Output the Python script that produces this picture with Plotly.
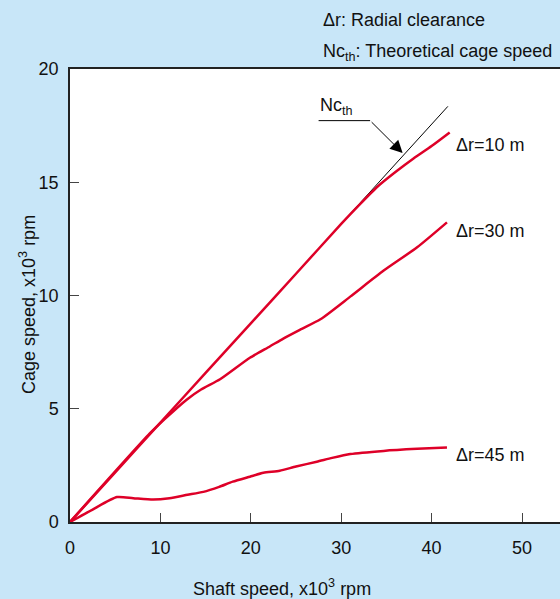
import plotly.graph_objects as go

# ---- data ----
theory_x = [0, 41.8]
theory_y = [0, 18.35]

r10_x = [0, 5, 10, 15, 20, 25, 30, 32, 34, 36, 38, 40, 42]
r10_y = [0, 2.19, 4.39, 6.58, 8.77, 10.96, 13.16, 14.0, 14.8, 15.45, 16.05, 16.6, 17.2]

r30_x = [0, 8.8, 10.5, 12.9, 14.5, 16.6, 19.9, 22.1, 23.6, 25.5, 27.7, 31.0, 34.7, 38.4, 41.7]
r30_y = [0, 3.9, 4.55, 5.4, 5.85, 6.3, 7.25, 7.75, 8.1, 8.5, 8.95, 9.95, 11.1, 12.13, 13.23]

r45_x = [0, 2.5, 5.2, 7, 9.2, 11, 13, 14.75, 16.5, 18, 19.9, 21.4, 23.2, 25, 27.3, 29, 31, 34.7, 38.4, 41.7]
r45_y = [0, 0.55, 1.1, 1.05, 0.99, 1.05, 1.2, 1.33, 1.55, 1.78, 2.0, 2.17, 2.26, 2.45, 2.66, 2.83, 3.0, 3.14, 3.23, 3.29]

x_ticks = [0, 10, 20, 30, 40, 50]
y_ticks = [0, 5, 10, 15, 20]

series_labels = ["Δr=10 m", "Δr=30 m", "Δr=45 m"]
label_y = [16.64, 12.85, 2.96]

RED = "rgb(222,0,40)"
BG = "rgb(200,230,248)"
FONT = "Liberation Sans, Arial, sans-serif"
FS = 18

fig = go.Figure()
fig.add_trace(go.Scatter(x=theory_x, y=theory_y, mode="lines",
                         line=dict(color="black", width=1), hoverinfo="skip"))
for xs, ys in [(r45_x, r45_y), (r30_x, r30_y), (r10_x, r10_y)]:
    fig.add_trace(go.Scatter(x=xs, y=ys, mode="lines",
                             line=dict(color=RED, width=2.5, shape="spline", smoothing=0.6),
                             hoverinfo="skip"))

for t, yv in zip(series_labels, label_y):
    fig.add_annotation(x=42.5, y=yv, xref="x", yref="y", text=t, showarrow=False,
                       xanchor="left", yanchor="middle", font=dict(size=FS, color="#111"))

# Nc_th leader
fig.add_shape(type="line", x0=27.5, y0=17.72, x1=33.2, y1=17.72, xref="x", yref="y",
              line=dict(color="black", width=1))
fig.add_annotation(x=36.8, y=16.29, xref="x", yref="y", ax=33.2, ay=17.72,
                   axref="x", ayref="y", text="", showarrow=True, arrowhead=2,
                   arrowsize=2.5, arrowwidth=1, arrowcolor="black")
fig.add_annotation(x=27.4, y=17.74, xref="x", yref="y", text="Nc<sub>th</sub>",
                   showarrow=False, xanchor="left", yanchor="bottom",
                   font=dict(size=FS, color="#111"))

# top notes
fig.add_annotation(x=321, y=599 - 20, xref="paper", yref="paper", text="Δr: Radial clearance",
                   showarrow=False, xanchor="left", yanchor="middle", font=dict(size=FS, color="#111"))
fig.add_annotation(x=321, y=599 - 52, xref="paper", yref="paper",
                   text="Nc<sub>th</sub>: Theoretical cage speed",
                   showarrow=False, xanchor="left", yanchor="middle", font=dict(size=FS, color="#111"))

# axis titles
fig.add_annotation(x=282, y=599 - 587, xref="paper", yref="paper",
                   text="Shaft speed, x10<sup>3</sup> rpm", showarrow=False,
                   xanchor="center", yanchor="middle", font=dict(size=FS, color="#111"))
fig.add_annotation(x=27, y=599 - 305, xref="paper", yref="paper",
                   text="Cage speed, x10<sup>3</sup> rpm", showarrow=False, textangle=-90,
                   xanchor="center", yanchor="middle", font=dict(size=FS, color="#111"))

# convert paper px annotations to fractions
W, H = 560, 599
L, R, T, B = 70, 0, 69, 77
pw, ph = W - L - R, H - T - B
for a in fig.layout.annotations:
    if a.xref == "paper":
        a.x = (a.x - L) / pw
        a.y = (a.y - B) / ph

fig.update_layout(
    width=W, height=H,
    margin=dict(l=L, r=R, t=T, b=B, pad=0),
    paper_bgcolor=BG, plot_bgcolor="white",
    showlegend=False,
    font=dict(family=FONT, size=FS, color="#111"),
    xaxis=dict(range=[0, 490 / 9.04], tickvals=x_ticks, ticks="inside", ticklen=9,
               tickcolor="#444", showline=True, linecolor="#222", linewidth=1.5,
               mirror=True, showgrid=False, zeroline=False, ticklabelstandoff=9),
    yaxis=dict(range=[0, 20], tickvals=y_ticks, ticks="inside", ticklen=9,
               tickcolor="#444", showline=True, linecolor="#222", linewidth=1.5,
               showgrid=False, zeroline=False, ticklabelstandoff=6),
)

fig.write_html("out.html", config={"displayModeBar": False},
               post_script="document.body.style.margin='0';document.body.style.overflow='hidden';")
